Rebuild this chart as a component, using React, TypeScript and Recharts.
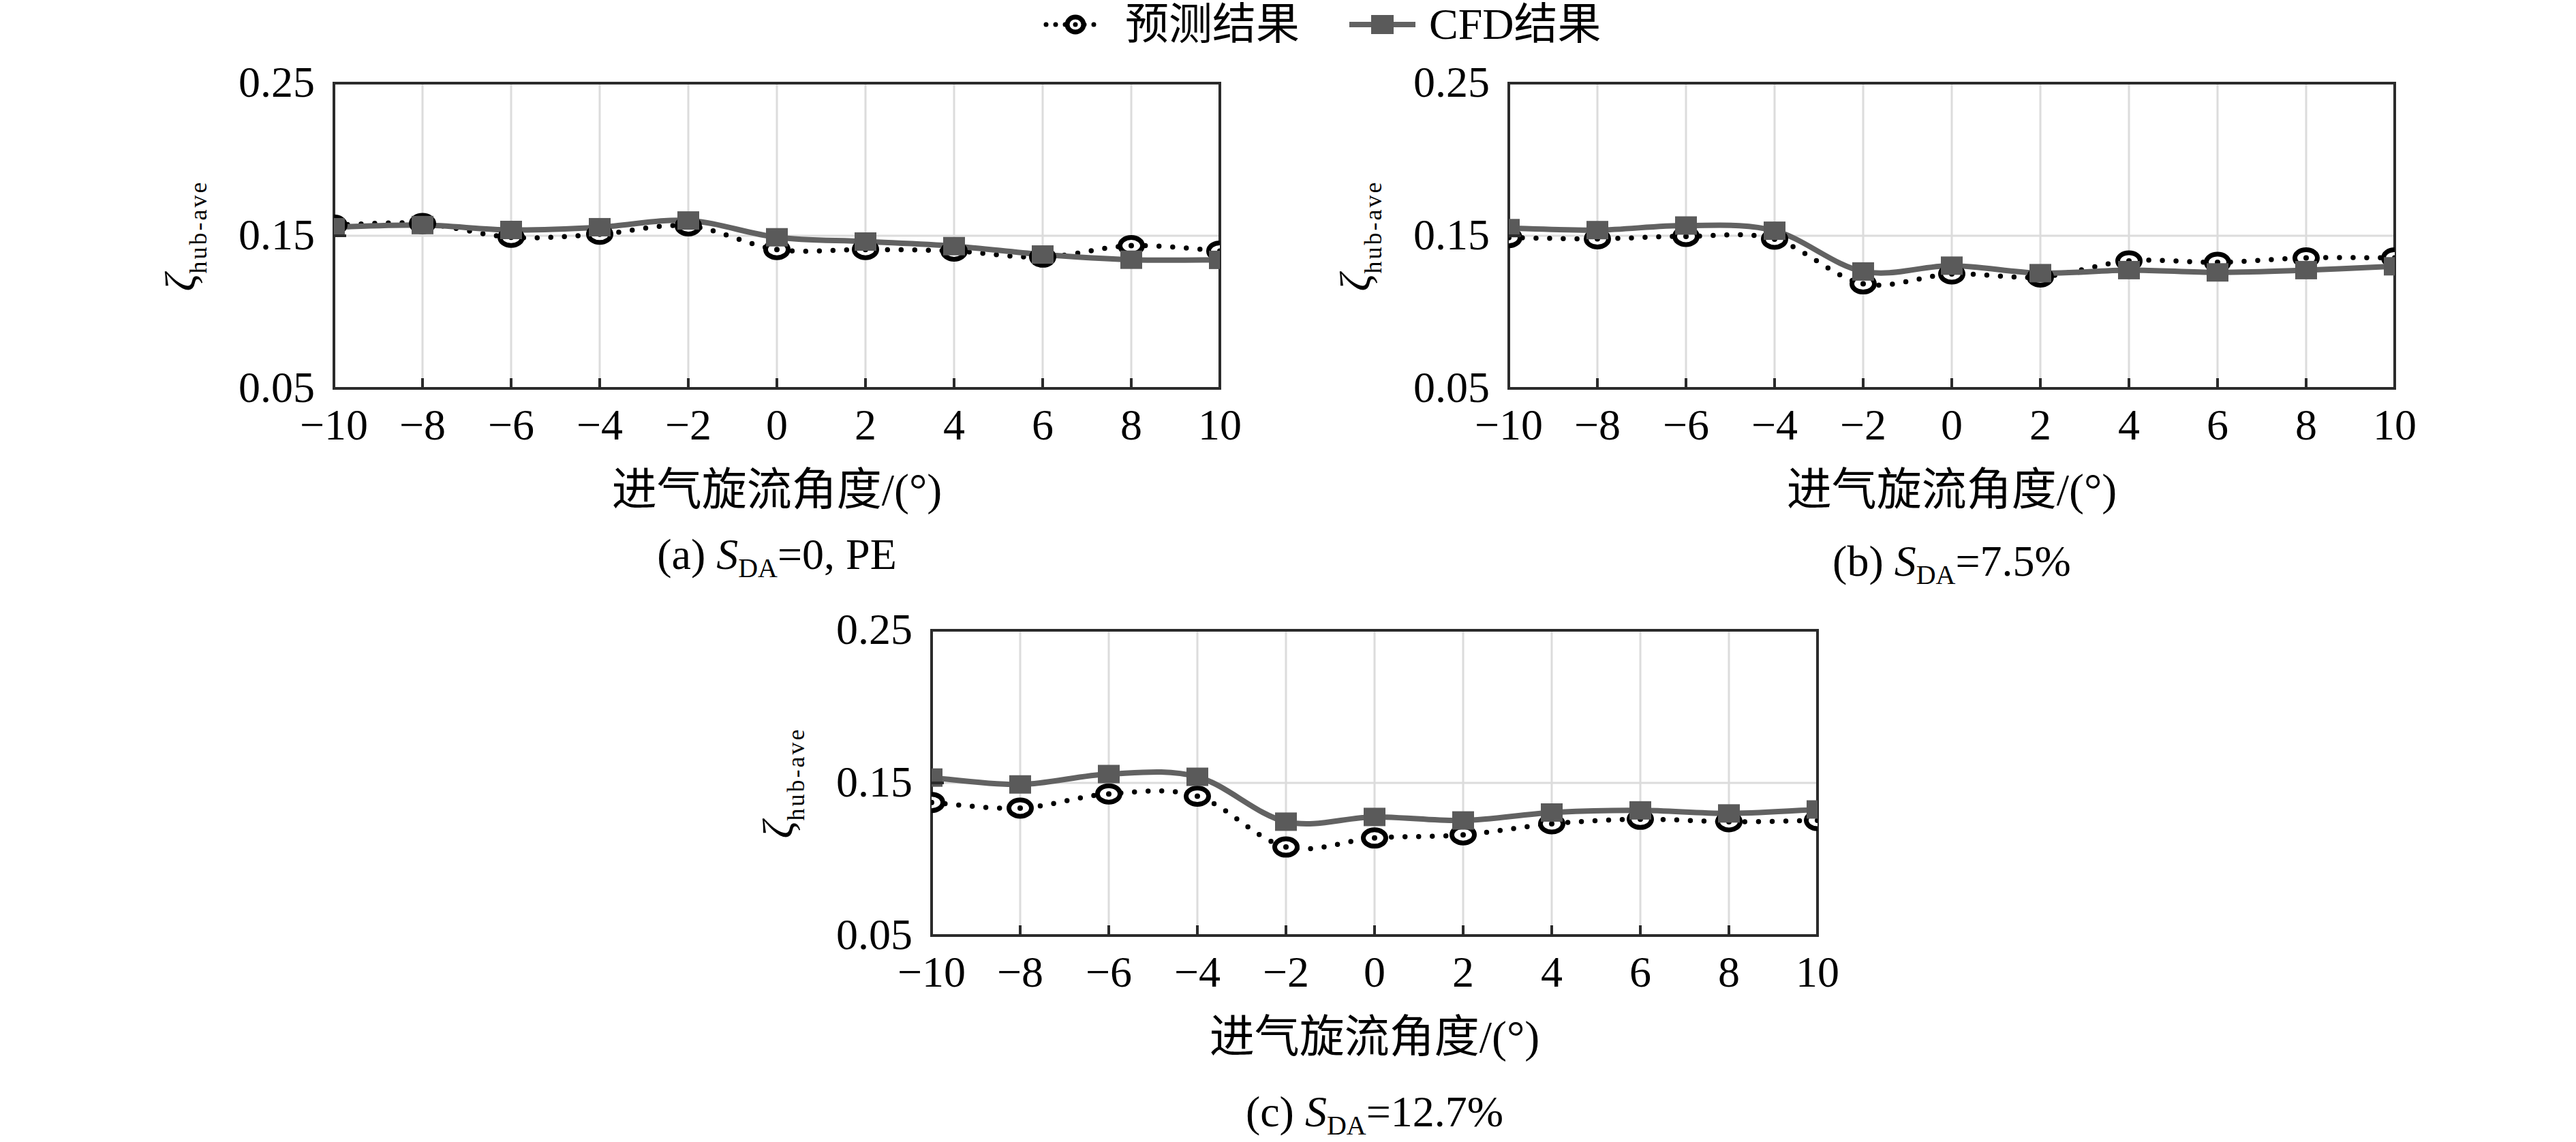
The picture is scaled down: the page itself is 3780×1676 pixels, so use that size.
import React from 'react';
import { CartesianGrid, Line, LineChart, ReferenceArea, XAxis, YAxis } from 'recharts';

const ANGLES = [-10, -8, -6, -4, -2, 0, 2, 4, 6, 8, 10];
const Y_TICKS = [0.05, 0.15, 0.25];

// (a) S_DA = 0, PE
const PRED_A = [0.157, 0.158, 0.149, 0.151, 0.1565, 0.141, 0.141, 0.14, 0.136, 0.1435, 0.14];
const CFD_A = [0.1556, 0.157, 0.1538, 0.1556, 0.16, 0.149, 0.1462, 0.1432, 0.1377, 0.1343, 0.1342];
// (b) S_DA = 7.5%
const PRED_B = [0.1488, 0.148, 0.1496, 0.1478, 0.1185, 0.125, 0.123, 0.1335, 0.1326, 0.1355, 0.1355];
const CFD_B = [0.155, 0.1537, 0.1567, 0.1533, 0.1266, 0.1304, 0.1255, 0.1275, 0.126, 0.1275, 0.13];
// (c) S_DA = 12.7%
const PRED_C = [0.1372, 0.1335, 0.1428, 0.1413, 0.108, 0.1139, 0.116, 0.1232, 0.1262, 0.1246, 0.1254];
const CFD_C = [0.1535, 0.149, 0.1558, 0.154, 0.1246, 0.1277, 0.1254, 0.1306, 0.132, 0.13, 0.1326];

const PRED_NAME = '预测结果';
const CFD_NAME = 'CFD结果';
const X_TITLE = '进气旋流角度/(°)';

const FONT = '"Liberation Serif", "Times New Roman", "Noto Sans CJK SC", serif';
const FRAME = '#2b2b2b';
const CFD_COLOR = '#626262';

const PLOT_W = 1300;
const PLOT_H = 448;
const Y_AXIS_W = 300;
const X_AXIS_H = 300;
const M_TOP = 40;
const M_RIGHT = 40;

// Catmull-Rom smoothing, close to the spreadsheet "smoothed line"
const smoothCurve = (context: any) => {
  let pts: number[][] = [];
  return {
    areaStart() {},
    areaEnd() {},
    lineStart() {
      pts = [];
    },
    point(x: number, y: number) {
      pts.push([x, y]);
    },
    lineEnd() {
      if (!pts.length) return;
      context.moveTo(pts[0][0], pts[0][1]);
      for (let i = 0; i < pts.length - 1; i++) {
        const p0 = pts[i - 1] || pts[i];
        const p1 = pts[i];
        const p2 = pts[i + 1];
        const p3 = pts[i + 2] || p2;
        context.bezierCurveTo(
          p1[0] + (p2[0] - p0[0]) / 6,
          p1[1] + (p2[1] - p0[1]) / 6,
          p2[0] - (p3[0] - p1[0]) / 6,
          p2[1] - (p3[1] - p1[1]) / 6,
          p2[0],
          p2[1]
        );
      }
    },
  };
};

const fmtAngle = (v: number) => (v < 0 ? `\u2212${Math.abs(v)}` : `${v}`);

const XTick = ({ x, y, payload }: any) => (
  <g>
    <line x1={x} x2={x} y1={y} y2={y - 15} stroke={FRAME} strokeWidth={4} />
    <text x={x} y={y + 75} textAnchor="middle" fontSize={64} fontFamily={FONT} fill="#000">
      {fmtAngle(payload.value)}
    </text>
  </g>
);

const YTick = ({ x, y, payload }: any) => (
  <g>
    <line x1={x} x2={x + 18} y1={y} y2={y} stroke={FRAME} strokeWidth={4} />
    <text x={x - 28} y={y} dy={20} textAnchor="end" fontSize={64} fontFamily={FONT} fill="#000">
      {payload.value.toFixed(2)}
    </text>
  </g>
);

const PredDot = ({ cx, cy }: any) => {
  if (cx == null || cy == null) return null;
  return (
    <g>
      <ellipse cx={cx} cy={cy} rx={16.5} ry={12} fill="#fff" stroke="#000" strokeWidth={7} />
      <circle cx={cx} cy={cy} r={4} fill="#000" />
    </g>
  );
};

const CfdDot = ({ cx, cy }: any) => {
  if (cx == null || cy == null) return null;
  return <rect x={cx - 16} y={cy - 13.5} width={32} height={27} fill="#5a5a5a" />;
};

interface PanelProps {
  pred: number[];
  cfd: number[];
  tag: string;
  value: string;
  left: number;
  top: number;
  captionOffset: number;
}

function Panel({ pred, cfd, tag, value, left, top, captionOffset }: PanelProps) {
  const data = ANGLES.map((angle, i) => ({ angle, pred: pred[i], cfd: cfd[i] }));

  const yTitle = ({ viewBox }: any) => {
    const cx = viewBox.x + viewBox.width - 204;
    const cy = viewBox.y + 224;
    return (
      <text
        x={cx}
        y={cy}
        textAnchor="middle"
        transform={`rotate(-90 ${cx} ${cy})`}
        fontFamily={FONT}
        fill="#000"
      >
        <tspan fontStyle="italic" fontSize={64}>ζ</tspan>
        <tspan fontSize={36} dy={17} letterSpacing={3}>hub-ave</tspan>
      </text>
    );
  };

  const xTitle = ({ viewBox }: any) => {
    const cx = viewBox.x + viewBox.width / 2;
    return (
      <g fontFamily={FONT} fill="#000">
        <text x={cx} y={viewBox.y + 148} textAnchor="middle" dominantBaseline="central" fontSize={66}>
          {X_TITLE}
        </text>
        <text x={cx} y={viewBox.y + captionOffset} textAnchor="middle" fontSize={64}>
          <tspan>{`(${tag}) `}</tspan>
          <tspan fontStyle="italic">S</tspan>
          <tspan fontSize={40} dy={12}>DA</tspan>
          <tspan dy={-12}>{value}</tspan>
        </text>
      </g>
    );
  };

  return (
    <div style={{ position: 'absolute', left: left - Y_AXIS_W, top: top - M_TOP }}>
      <LineChart
        width={PLOT_W + Y_AXIS_W + M_RIGHT}
        height={PLOT_H + M_TOP + X_AXIS_H}
        data={data}
        margin={{ top: M_TOP, right: M_RIGHT, bottom: 0, left: 0 }}
      >
        <CartesianGrid stroke="#dcdcdc" strokeWidth={3} />
        <XAxis
          dataKey="angle"
          type="number"
          domain={[-10, 10]}
          ticks={ANGLES}
          allowDataOverflow
          height={X_AXIS_H}
          axisLine={false}
          tickLine={false}
          tickSize={0}
          tickMargin={0}
          interval={0}
          tick={<XTick />}
          label={{ content: xTitle }}
        />
        <YAxis
          type="number"
          domain={[0.05, 0.25]}
          ticks={Y_TICKS}
          allowDataOverflow
          width={Y_AXIS_W}
          axisLine={false}
          tickLine={false}
          tickSize={0}
          tickMargin={0}
          interval={0}
          tick={<YTick />}
          label={{ content: yTitle }}
        />
        <ReferenceArea x1={-10} x2={10} y1={0.05} y2={0.25} fill="none" stroke={FRAME} strokeWidth={4} />
        <Line
          dataKey="pred"
          name={PRED_NAME}
          type={smoothCurve as any}
          stroke="#000"
          strokeWidth={7.5}
          strokeDasharray="0 20"
          strokeLinecap="round"
          dot={<PredDot />}
          activeDot={false}
          isAnimationActive={false}
        />
        <Line
          dataKey="cfd"
          name={CFD_NAME}
          type={smoothCurve as any}
          stroke={CFD_COLOR}
          strokeWidth={8}
          dot={<CfdDot />}
          activeDot={false}
          isAnimationActive={false}
        />
      </LineChart>
    </div>
  );
}

function Legend() {
  const textStyle: React.CSSProperties = { fontFamily: FONT, fontSize: 64, lineHeight: '72px', color: '#000' };
  return (
    <>
      <svg style={{ position: 'absolute', left: 1530, top: 16 }} width={92} height={40}>
        <line x1={5} x2={88} y1={20} y2={20} stroke="#000" strokeWidth={7} strokeDasharray="0 14" strokeLinecap="round" />
        <ellipse cx={48} cy={20} rx={12} ry={11} fill="#fff" stroke="#000" strokeWidth={7} />
        <circle cx={48} cy={20} r={3.5} fill="#000" />
      </svg>
      <div style={{ ...textStyle, position: 'absolute', left: 1651, top: 0 }}>{PRED_NAME}</div>
      <svg style={{ position: 'absolute', left: 1978, top: 16 }} width={102} height={40}>
        <line x1={2} x2={99} y1={20} y2={20} stroke={CFD_COLOR} strokeWidth={8} />
        <rect x={34} y={6} width={33} height={28} fill="#5a5a5a" />
      </svg>
      <div style={{ ...textStyle, position: 'absolute', left: 2097, top: 0 }}>{CFD_NAME}</div>
    </>
  );
}

export default function App() {
  return (
    <div
      style={{
        position: 'absolute',
        left: 0,
        top: 0,
        width: 3780,
        height: 1676,
        background: '#fff',
        overflow: 'hidden',
      }}
    >
      <Legend />
      <Panel pred={PRED_A} cfd={CFD_A} tag="a" value="=0, PE" left={490} top={122} captionOffset={265} />
      <Panel pred={PRED_B} cfd={CFD_B} tag="b" value="=7.5%" left={2214} top={122} captionOffset={275} />
      <Panel pred={PRED_C} cfd={CFD_C} tag="c" value="=12.7%" left={1367} top={925} captionOffset={280} />
    </div>
  );
}
